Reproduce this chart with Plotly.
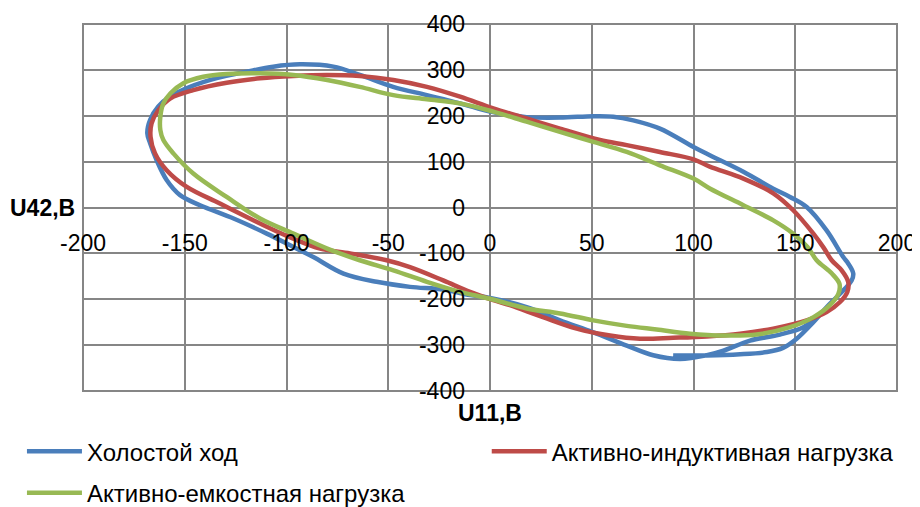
import plotly.graph_objects as go

# Холостой ход (blue)
blue_x = [90, 106.5, 122.9, 136, 144, 150.7, 158.9, 165.5, 172, 177.7, 178.5, 176, 173.6, 165.4, 155.6,
          147.4, 139.2, 124.5, 108, 100, 83.5, 70.4, 60.6, 50.8, 34.4, 18, 9.8, 0, -14.7, -31, -47.6,
          -64, -77, -93.4, -106.5, -119.6, -134.3, -147.4, -157.2, -163, -167, -168.4, -167, -163.8,
          -158.9, -152.3, -142.5, -126, -109.7, -96.6, -86.8, -72, -55.7, -39.3, -23, -9.8, 0, 18, 34.4,
          50.8, 67.2, 80.2, 93.4, 106.5, 114.7, 127.8, 142.5, 154, 160.5, 164]
blue_y = [-322.5, -322.5, -320, -315, -306, -286, -250, -217, -188, -159, -144, -122, -108, -50, 1,
          23, 41, 78, 114, 132, 172, 190, 198, 199, 196, 197, 202, 209, 227, 245, 263,
          289, 307, 312, 307, 296, 282, 263, 242, 220, 191, 162, 140, 103,
          60, 27, 5, -24, -57, -86, -108, -144, -162, -173, -179, -191, -197, -217, -246,
          -272, -301, -322, -330, -322, -312, -290, -277, -261, -239, -226]

# Активно-индуктивная нагрузка (red)
red_x = [167.9, 172.8, 176, 175.6, 172, 165.4, 155.6, 139.2, 122.9, 106.5, 90, 73.7, 59, 42.6, 26, 9.8,
         1.6, -9.8, -23, -39.3, -50.8, -68.8, -83.5, -96.7, -109.7, -116.3, -132.7, -149, -158.9,
         -164.6, -166.8, -166.3, -163, -157, -145.8, -129.4, -113, -96.6, -80, -64, -47.5, -31,
         -14.7, 1.6, 18, 34.4, 54, 67.2, 83.5, 100, 108, 124.5, 139.2, 149, 158.9, 164, 167.9]
red_y = [-115, -137, -162, -184, -206, -228, -246, -264, -275, -281, -284, -286, -279, -264, -239, -213,
         -202, -184, -159, -130, -115, -100, -89.5, -68, -42, -27.7, 8.7, 45, 81.4,
         118, 154, 183.4, 212, 238, 256, 272, 281.6, 286.7, 289, 286.7, 278, 263,
         241.5, 216, 194, 172, 147, 136, 121, 105, 89, 63, 31, -6, -57, -88, -115]

# Активно-емкостная нагрузка (green)
green_x = [160.5, 168, 171.7, 171.2, 167, 159, 147.4, 131, 114.7, 98.3, 81.9, 67.2, 50.8, 34.4, 18,
           0, -14.7, -31, -47.5, -64, -80, -96.6, -113, -129.4, -145.8, -155.6, -160.5, -162, -162,
           -160.5, -157, -150.7, -140.9, -129.4, -113, -96.6, -80, -64, -47.5, -31, -14.7, 1.6, 18,
           34.4, 50.8, 67.2, 83.5, 100, 108, 124.5, 139.2, 149, 156, 160.5]
green_y = [-115, -144, -166, -188, -213, -239, -261, -277, -279, -275, -266, -258, -246, -231, -220,
           -199, -184, -162, -137, -115, -89.5, -57, -24, 23, 74, 118, 147, 169, 198,
           227, 249, 271, 285, 291, 292.5, 289, 278, 263, 245, 236, 227, 209, 187,
           165, 143, 121, 92, 63, 41.5, 5, -28, -57, -86, -115]

names = ["Холостой ход", "Активно-индуктивная нагрузка", "Активно-емкостная нагрузка"]
colors = ["#4A7EBB", "#BE4B48", "#98B954"]

x_ticks = [-200, -150, -100, -50, 0, 50, 100, 150, 200]
y_ticks = [-400, -300, -200, -100, 0, 100, 200, 300, 400]

FONT = "Liberation Sans"
GRID = "#868686"

fig = go.Figure()
series = [(blue_x, blue_y), (red_x, red_y), (green_x, green_y)]
legends = ["legend", "legend2", "legend3"]
for (xs, ys), name, col, lg in zip(series, names, colors, legends):
    fig.add_trace(go.Scatter(x=xs, y=ys, mode="lines", name=name,
                             line=dict(color=col, width=4.5, shape="spline", smoothing=1.0),
                             legend=lg))

leg_common = dict(orientation="h", xanchor="left", yanchor="top", itemwidth=55,
                  font=dict(size=24, family=FONT), bgcolor="rgba(0,0,0,0)")

# page body adds an 8px margin, so the figure is 8px smaller and margins shifted
fig.update_layout(
    width=912, height=499,
    margin=dict(l=75, r=23, t=16, b=116, autoexpand=False),
    paper_bgcolor="white", plot_bgcolor="white",
    font=dict(family=FONT, color="black", size=23),
    xaxis=dict(range=[-200, 200], tickvals=x_ticks, ticktext=[str(v) for v in x_ticks],
               anchor="free", position=0.5, showgrid=True, gridcolor=GRID, gridwidth=2,
               zeroline=True, zerolinecolor=GRID, zerolinewidth=2, showline=False,
               automargin=False,
               ticks="", ticklabelstandoff=19, tickfont=dict(size=23, family=FONT)),
    yaxis=dict(range=[-400, 400], tickvals=y_ticks, ticktext=[str(v) for v in y_ticks],
               anchor="free", position=0.5, showgrid=True, gridcolor=GRID, gridwidth=2,
               zeroline=True, zerolinecolor=GRID, zerolinewidth=2, showline=False,
               automargin=False,
               ticks="", ticklabelstandoff=25, tickfont=dict(size=23, family=FONT)),
    legend=dict(x=-0.075, y=-0.104, **leg_common),
    legend2=dict(x=0.496, y=-0.104, **leg_common),
    legend3=dict(x=-0.075, y=-0.217, **leg_common),
    showlegend=True,
)

fig.add_shape(type="rect", xref="paper", yref="paper", x0=0, y0=0, x1=1, y1=1,
              line=dict(color=GRID, width=2), layer="below")

fig.add_annotation(text="<b>U11,B</b>", x=0, xref="x", y=-0.06, yref="paper",
                   showarrow=False, font=dict(size=23, family=FONT), xanchor="center", yanchor="middle")
fig.add_annotation(text="<b>U42,B</b>", x=-0.05, xref="paper", y=0, yref="y",
                   showarrow=False, font=dict(size=23, family=FONT), xanchor="center", yanchor="middle")

fig.write_html("out.html")
